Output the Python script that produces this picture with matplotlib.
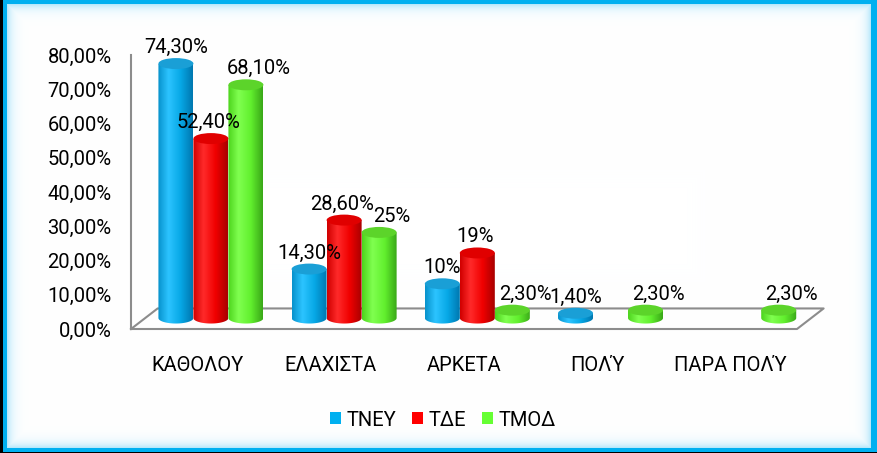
import numpy as np
import matplotlib.pyplot as plt
from matplotlib.patches import Ellipse, PathPatch, Patch
from matplotlib.path import Path

plt.rcParams['font.family'] = ['Roboto', 'DejaVu Sans']

# dados
categorias = ['ΚΑΘΟΛΟΥ', 'ΕΛΑΧΙΣΤΑ', 'ΑΡΚΕΤΑ', 'ΠΟΛΎ', 'ΠΑΡΑ ΠΟΛΎ']
series = ['ΤΝΕΥ', 'ΤΔΕ', 'ΤΜΟΔ']
tney = [74.3, 14.3, 10.0, 1.4, 0]
tde = [52.4, 28.6, 19.0, 0, 0]
tmod = [68.1, 25.0, 2.3, 2.3, 2.3]
yticks = [0, 10, 20, 30, 40, 50, 60, 70, 80]

# cores: (esquerda, brilho, meio, direita, topo)
cores = {
    'ΤΝΕΥ': ['#0792cc', '#2cc4ff', '#07a8e6', '#0078b0', '#1a9fd6'],
    'ΤΔΕ': ['#d00000', '#ff2a2a', '#f00000', '#a80000', '#e00000'],
    'ΤΜΟΔ': ['#4cd41c', '#80ff50', '#62f02e', '#3aa818', '#5cd42a'],
}
cor_leg = {'ΤΝΕΥ': '#00b0f0', 'ΤΔΕ': '#ff0000', 'ΤΜΟΔ': '#66ff33'}
desloc_rot = {'ΤΝΕΥ': 0, 'ΤΔΕ': -2, 'ΤΜΟΔ': 13}  # deslocamento x dos rótulos (px)
FS = 14.5


def fmt(v):
    if float(v).is_integer():
        return '%d%%' % v
    return ('%.2f%%' % v).replace('.', ',')


def gradiente(c):
    stops = [0.0, 0.3, 0.65, 1.0]
    rgb = np.array([plt.matplotlib.colors.to_rgb(x) for x in c[:4]])
    u = np.linspace(0, 1, 64)
    g = np.stack([np.interp(u, stops, rgb[:, k]) for k in range(3)], axis=-1)
    return g[None, :, :]


W, H = 878, 453
fig = plt.figure(figsize=(W / 100, H / 100), dpi=100)
fig.patch.set_facecolor('black')

# moldura azul com brilho interno
bg = fig.add_axes([0, 0, 1, 1])
bg.axis('off')
img = np.zeros((H, W, 3))
img[0:452, 3:W] = np.array([0, 176, 240]) / 255
yy, xx = np.mgrid[0:H, 0:W]
d = np.minimum.reduce([xx - 7, 870 - xx, yy - 4, 447 - yy])
m = d >= 0
t = 0.5 * np.exp(-d / 5.0)
glow = np.array([0.45, 0.82, 0.97])
img[m] = (1 - t[m, None]) * 1.0 + t[m, None] * glow
bg.imshow(img, aspect='auto', interpolation='nearest')

# eixo principal (pixels da frente: x 131..797, y 329..55)
pxx = 666 / 5
pxy = 274 / 80
xl, yl = (-0.05, 5.35), (-5, 85)
left = 131 + xl[0] * pxx
right = 131 + xl[1] * pxx
top = 55 - (yl[1] - 80) * pxy
bottom = 329 - yl[0] * pxy
ax = fig.add_axes([left / W, 1 - bottom / H, (right - left) / W, (bottom - top) / H])
ax.patch.set_alpha(0)

# chao 3D
dxf, dyf = 0.2, 6.0
ax.plot([0, 5, 5 + dxf, dxf, 0], [0, 0, dyf, dyf, 0], color='#8c8c8c', lw=1.5, zorder=1)

# cilindros
bw = 35 / pxx
a = bw / 2
dxm, dym = 0.1, 3.2
b = 1.6
for j, (nome, vals) in enumerate(zip(series, [tney, tde, tmod])):
    c = cores[nome]
    g = gradiente(c)
    for i, v in enumerate(vals):
        if v <= 0:
            continue
        cx = i + 0.5 + dxm + (j - 1) * bw
        yb, yt = dym, dym + v
        tt = np.linspace(np.pi, 2 * np.pi, 40)
        verts = [(cx - a, yt)] + list(zip(cx + a * np.cos(tt), yb + b * np.sin(tt))) + [(cx + a, yt), (cx - a, yt)]
        corpo = PathPatch(Path(verts), facecolor='none', edgecolor='none')
        ax.add_patch(corpo)
        im = ax.imshow(g, extent=(cx - a, cx + a, yb - b, yt), aspect='auto',
                       interpolation='bilinear', zorder=2)
        im.set_clip_path(corpo)
        ax.add_patch(Ellipse((cx, yt), bw, 2 * b, facecolor=c[4], edgecolor='none', zorder=3))
        ax.annotate(fmt(v), (cx, yt + b), xytext=(desloc_rot[nome], 1), textcoords='offset pixels',
                    ha='center', va='bottom', fontsize=FS, zorder=5)

ax.set_xlim(*xl)
ax.set_ylim(*yl)

for s in ['top', 'right', 'bottom']:
    ax.spines[s].set_visible(False)
ax.spines['left'].set_position(('data', 0))
ax.spines['left'].set_bounds(0, 80)
ax.spines['left'].set_color('#8c8c8c')
ax.spines['left'].set_linewidth(1.5)

ax.set_yticks(yticks, [('%.2f%%' % v).replace('.', ',') for v in yticks], fontsize=FS)
ax.set_xticks([i + 0.5 for i in range(len(categorias))], categorias, fontsize=FS)
ax.tick_params(axis='y', length=0, pad=14)
ax.tick_params(axis='x', length=0, pad=7)

handles = [Patch(facecolor=cor_leg[n], label=n) for n in series]
fig.legend(handles=handles, loc='center', bbox_to_anchor=(443 / W, 1 - 420 / H), ncol=3,
           frameon=False, fontsize=FS, handlelength=0.55, handleheight=0.55,
           handletextpad=0.25, columnspacing=0.8)

fig.savefig('out.png', dpi=100, facecolor=fig.get_facecolor())
